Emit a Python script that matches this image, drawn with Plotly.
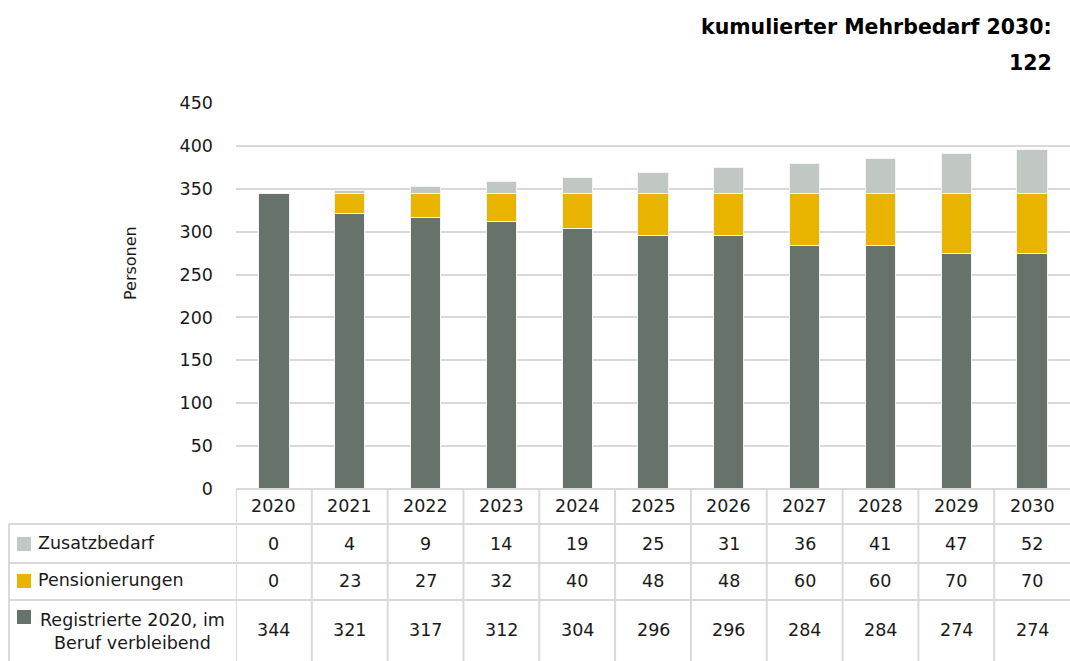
import plotly.graph_objects as go

years = ["2020", "2021", "2022", "2023", "2024", "2025", "2026", "2027", "2028", "2029", "2030"]
registrierte = [344, 321, 317, 312, 304, 296, 296, 284, 284, 274, 274]
pensionierungen = [0, 23, 27, 32, 40, 48, 48, 60, 60, 70, 70]
zusatzbedarf = [0, 4, 9, 14, 19, 25, 31, 36, 41, 47, 52]
series_names = ["Zusatzbedarf", "Pensionierungen", "Registrierte 2020, im<br>Beruf verbleibend"]
y_ticks = [0, 50, 100, 150, 200, 250, 300, 350, 400, 450]
title_lines = ["kumulierter Mehrbedarf 2030:", "122"]
y_title = "Personen"

C_DARK = "#67736a"
C_YEL = "#e8b400"
C_LIGHT = "#c1c7c3"
GRID = "#d9d9d9"
FONT = "DejaVu Sans"
W, H = 1070, 661
FS = 17.5

def py(p):
    return (H - p) / H

def px(p):
    return p / W

X0 = px(236)
n = len(years)

def colx(i):
    return X0 + (i + 0.5) / n * (1 - X0)

fig = go.Figure()
for vals, col, nm in [(registrierte, C_DARK, "reg"), (pensionierungen, C_YEL, "pens"), (zusatzbedarf, C_LIGHT, "zus")]:
    fig.add_trace(go.Bar(x=years, y=vals, name=nm, marker=dict(color=col, line=dict(color="#f4f4f4", width=1)),
                         width=0.4, showlegend=False))

fig.update_layout(
    template="none",
    width=W, height=H, barmode="stack", autosize=False,
    margin=dict(l=0, r=0, t=0, b=0, pad=0),
    paper_bgcolor="white", plot_bgcolor="white",
    font=dict(family=FONT, size=FS, color="#1a1a1a"),
    xaxis=dict(domain=[X0, 1.0], range=[-0.5, n - 0.5], showticklabels=False, showgrid=False,
               zeroline=False, showline=False, type="category", automargin=False, ticks=""),
    yaxis=dict(domain=[py(489), py(103)], range=[0, 450], tickvals=y_ticks, showgrid=True,
               gridcolor=GRID, gridwidth=2, zeroline=False, showline=False, ticks="",
               ticklabelstandoff=22, tickfont=dict(size=FS), automargin=False),
)

ann = []
shapes = []

def add_text(text, x, y, xanchor="center", align="center", **kw):
    ann.append(dict(text=text, x=x, y=y, xref="paper", yref="paper", xanchor=xanchor, yanchor="middle",
                    align=align, showarrow=False, **kw))

# title
add_text(title_lines[0], px(1054), py(27), xanchor="right", font=dict(size=20.5, color="#000", weight="bold"))
add_text(title_lines[1], px(1054), py(63), xanchor="right", font=dict(size=20.5, color="#000", weight="bold"))
# y title
add_text(y_title, px(130), py(263), textangle=-90, font=dict(size=16))

# table lines
line = dict(color=GRID, width=2)
for yy, x0 in [(489, 236), (524, 9), (563, 9), (600, 9)]:
    shapes.append(dict(type="line", xref="paper", yref="paper", x0=px(x0), x1=1, y0=py(yy), y1=py(yy), line=line))
shapes.append(dict(type="line", xref="paper", yref="paper", x0=px(9), x1=px(9), y0=py(524), y1=0, line=line))
for k in range(n):
    shapes.append(dict(type="line", xref="x", yref="paper", x0=k - 0.5, x1=k - 0.5, y0=py(489), y1=0, line=line))

row_y = [544, 581, 630]
rows = [zusatzbedarf, pensionierungen, registrierte]
for i, yr in enumerate(years):
    add_text(yr, colx(i), py(506))
    for r, vals in enumerate(rows):
        add_text(str(vals[i]), colx(i), py(row_y[r]))

# row labels with colour squares
cols = [C_LIGHT, C_YEL, C_DARK]
sq_y = [544, 581, 617]
for r in range(3):
    shapes.append(dict(type="rect", xref="paper", yref="paper", x0=px(17), x1=px(31), y0=py(sq_y[r] + 7),
                       y1=py(sq_y[r] - 7), fillcolor=cols[r], line=dict(width=0)))
add_text(series_names[0], px(36), py(543), xanchor="left", align="left")
add_text(series_names[1], px(36), py(580), xanchor="left", align="left")
add_text(series_names[2], px(132), py(631))

fig.update_layout(annotations=ann, shapes=shapes)
fig.write_html("out.html", config={"displayModeBar": False},
               post_script="document.body.style.margin='0';document.body.style.padding='0';")
